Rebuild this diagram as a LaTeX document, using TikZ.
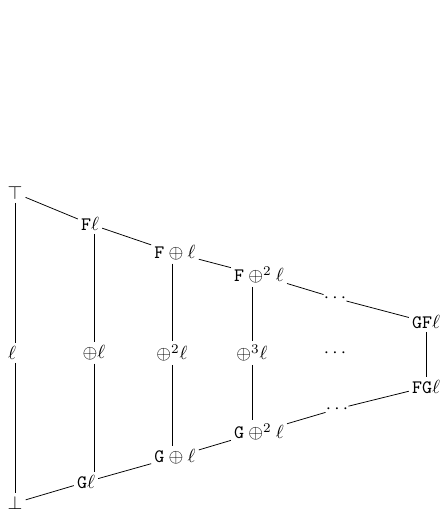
\documentclass[tikz,border=0pt]{standalone}
\usepackage{amssymb}
\usetikzlibrary{calc}

\begin{document}
\begin{tikzpicture}[x=0.526pt,y=-0.526pt,every node/.style={inner sep=1.5pt}]
\useasboundingbox (0,0) rectangle (443,515);
\node (top) at (15,193) {$\top$};
\node (l) at (12,353) {$\ell$};
\node (bot) at (15,503) {$\bot$};
\node (f0) at (90,224) {$\mathtt{F}\ell$};
\node (m0) at (94,353) {$\oplus\ell$};
\node (g0) at (86,482) {$\mathtt{G}\ell$};
\node (f1) at (175,253) {$\mathtt{F}\oplus\ell$};
\node (m1) at (172,353) {$\oplus^2\ell$};
\node (g1) at (175,457) {$\mathtt{G}\oplus\ell$};
\node (f2) at (259,275) {$\mathtt{F}\oplus^2\ell$};
\node (m2) at (252,353) {$\oplus^3\ell$};
\node (g2) at (259,432) {$\mathtt{G}\oplus^2\ell$};
\node[inner sep=0pt] (fd) at (335,298) {$\cdots$};
\node (md) at (335,353) {$\cdots$};
\node[inner sep=0pt] (gd) at (337,409) {$\cdots$};
\node (gf) at (426,322) {$\mathtt{GF}\ell$};
\node (fg) at (426,387) {$\mathtt{FG}\ell$};
% columns
\draw (top) -- (top |- l.north);
\draw (top |- l.south) -- (bot);
\draw (f0.south -| m0) -- (m0) -- (g0.north -| m0);
\draw (f1.south -| m1) -- (m1) -- (g1.north -| m1);
\draw (f2.south -| m2) -- (m2) -- (g2.north -| m2);
\draw (gf) -- (fg);
% rows
\draw (top) -- (f0) -- (f1) -- (f2) -- (fd) -- (gf);
\draw (bot) -- (g0) -- (g1) -- (g2) -- (gd) -- (fg);
\end{tikzpicture}
\end{document}
